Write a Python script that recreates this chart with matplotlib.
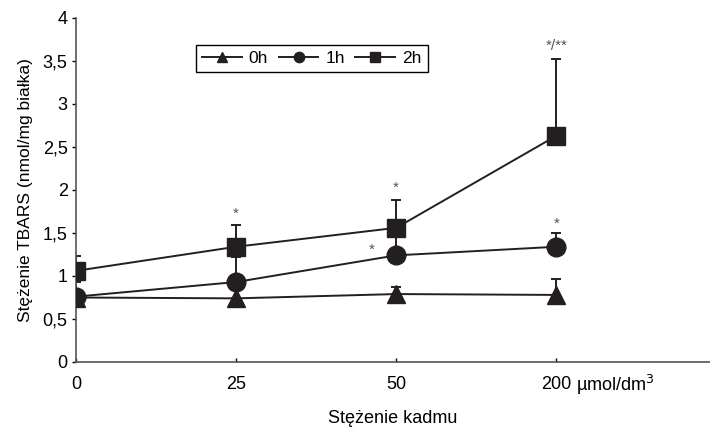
import matplotlib.pyplot as plt
import numpy as np

plt.rcParams['font.family'] = ['Liberation Sans', 'DejaVu Sans']

categories = ['0', '25', '50', '200']
series_labels = ['0h', '1h', '2h']
means_0h = [0.75, 0.74, 0.79, 0.78]
err_0h = [0.0, 0.0, 0.08, 0.18]
means_1h = [0.76, 0.93, 1.24, 1.34]
err_1h = [0.17, 0.29, 0.22, 0.16]
means_2h = [1.06, 1.34, 1.56, 2.63]
err_2h = [0.17, 0.25, 0.32, 0.89]
# significance marks: (category index, y, text)
stars = [(1, 1.72, '*'), (2, 2.02, '*'), (1.85, 1.31, '*'),
         (3, 1.61, '*'), (3, 3.68, '*/**')]

fig = plt.figure(figsize=(7.1, 4.28), dpi=100)
ax = fig.add_axes([76 / 710, 66 / 428, 634 / 710, 344 / 428])

x = np.arange(len(categories))
markers = ['^', 'o', 's']
all_means = [means_0h, means_1h, means_2h]
all_errs = [err_0h, err_1h, err_2h]
handles = []
for m, mean, err, lab in zip(markers, all_means, all_errs, series_labels):
    ax.errorbar(x, mean, yerr=[np.zeros(len(err)), err], fmt='none',
                ecolor='#231f20', elinewidth=1.4, capsize=3.8, capthick=1.4,
                zorder=2)
    line, = ax.plot(x, mean, color='#231f20', lw=1.4, marker=m,
                    markersize=13.5, markeredgecolor='#231f20',
                    markerfacecolor='#231f20', label=lab, zorder=3)
    handles.append(line)

for xi, yi, s in stars:
    ax.text(xi, yi, s, ha='center', va='center', fontsize=11, color='#555555')

ax.set_xlim(0, 3.96)
ax.set_ylim(0, 4)
ax.set_xticks(x)
ax.set_xticklabels(categories, fontsize=13)
ax.set_yticks(np.arange(0, 4.01, 0.5))
ax.set_yticklabels([f'{v:g}'.replace('.', ',') for v in np.arange(0, 4.01, 0.5)],
                   fontsize=13)
ax.annotate('\u00b5mol/dm$^3$', xy=(3, 0), xycoords=('data', 'axes fraction'),
            xytext=(14, -8), textcoords='offset points', ha='left', va='top',
            fontsize=13)
ax.tick_params(axis='x', direction='in', length=3, width=1, pad=10)
ax.tick_params(axis='y', direction='out', length=3, width=1, pad=3)
for side in ['top', 'right']:
    ax.spines[side].set_visible(False)
for side in ['left', 'bottom']:
    ax.spines[side].set_color('#555555')
    ax.spines[side].set_linewidth(1.2)

ax.set_ylabel('Stężenie TBARS (nmol/mg białka)', fontsize=12.5, labelpad=7)
ax.set_xlabel('Stężenie kadmu', fontsize=13, labelpad=12)

leg = ax.legend(handles=handles, loc='upper left', ncol=3,
                bbox_to_anchor=(0.189, 0.921), borderaxespad=0,
                markerscale=0.55, handlelength=2.3, columnspacing=0.6,
                handletextpad=0.4, fontsize=12.5, fancybox=False,
                edgecolor='black', framealpha=1, borderpad=0.35)
leg.get_frame().set_linewidth(1.0)

fig.savefig('out.png', dpi=100)
